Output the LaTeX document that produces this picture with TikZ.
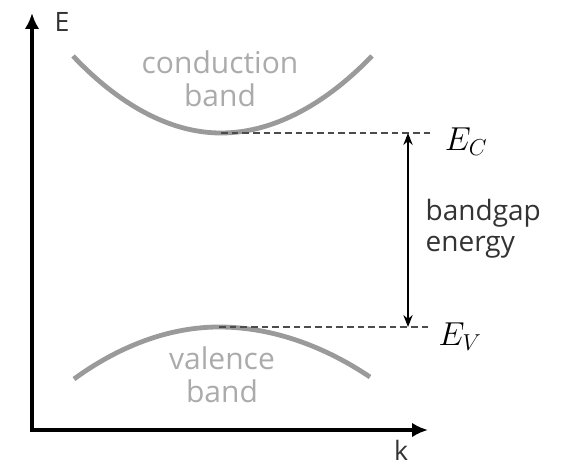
\documentclass[tikz,border=0pt]{standalone}
\usepackage{fontspec}
\setmainfont{Open Sans}
\usetikzlibrary{arrows.meta}
\definecolor{BandGray}{HTML}{9A9A9A}
\definecolor{LabelGray}{HTML}{ABABAB}
\begin{document}
\begin{tikzpicture}[x=0.75pt,y=-0.75pt,>={Stealth[length=9pt,width=7pt]},
  band/.style={line width=3.6pt,color=BandGray},
  bandlbl/.style={text=LabelGray,align=center,font=\fontsize{22.5}{25}\selectfont},
  level/.style={line width=1.1pt,color=black!70,dash pattern=on 5pt off 3pt}]
  \useasboundingbox (0,0) rectangle (570,466);
  % axes
  \coordinate (etop) at (32,13);
  \coordinate (o) at (32,430);
  \coordinate (kend) at (428,430);
  \draw[line width=3pt,miter limit=10,{Latex[length=12pt,width=11pt]}-{Latex[length=12pt,width=11pt]}]
    (etop) -- (o) -- (kend);
  \node[text=black!80,font=\fontsize{20}{22}\selectfont] (elbl) at (62,22) {E};
  \node[text=black!80,inner sep=0pt,font=\fontsize{20}{22}\selectfont] (klbl) at (401,450) {k};
  % bands
  \coordinate (cmin) at (221,133);
  \coordinate (vmax) at (219,327);
  \draw[band] (73,56) parabola bend (cmin) (372,56);
  \draw[band] (74,379) parabola bend (vmax) (370,377);
  \node[bandlbl] (cb) at (220,79) {conduction\\band};
  \node[bandlbl] (vb) at (222,375) {valence\\band};
  % band edges
  \coordinate (cend) at (433,133);
  \coordinate (vend) at (432,327);
  \draw[level] (cmin) -- (cend);
  \draw[level] (vmax) -- (vend);
  \node[font=\fontsize{26}{28}\selectfont] (ec) at (466,142) {$E_C$};
  \node[font=\fontsize{26}{28}\selectfont] (ev) at (460,337) {$E_V$};
  % gap
  \coordinate (ga) at (408,133);
  \coordinate (gb) at (408,327);
  \draw[<->,line width=1pt] (ga) -- (gb);
  \node[anchor=west,align=left,text=black!80,font=\fontsize{21}{23}\selectfont]
    (gap) at (421,229) {bandgap\\energy};
\end{tikzpicture}
\end{document}
